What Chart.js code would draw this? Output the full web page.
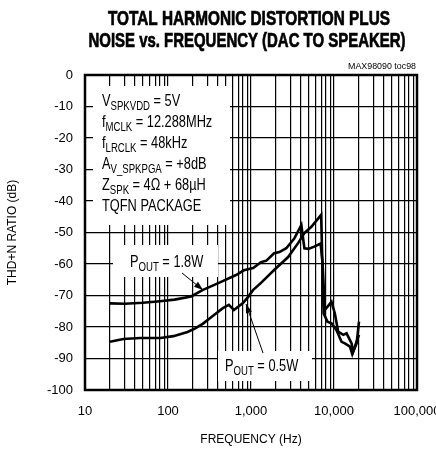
<!DOCTYPE html>
<html>
<head>
<meta charset="utf-8">
<script src="https://cdn.jsdelivr.net/npm/chart.js@4.4.1/dist/chart.umd.min.js"></script>
<style>
  html,body{margin:0;padding:0;background:#fff;}
  #wrap{width:436px;height:451px;position:relative;}
</style>
</head>
<body>
<div id="wrap"><canvas id="thd" width="436" height="451"></canvas></div>
<script>
// THD+N vs frequency, DAC to speaker
const FNT = "'Liberation Sans',Arial,sans-serif";
const NARROW = 0.8; // Liberation Sans squeezed ~ Helvetica Narrow

const freq18 = [20, 30, 50, 80, 120, 190, 260, 410, 660, 820, 1060, 1320, 1520, 1900, 2200, 2660, 3320, 4040, 4400, 4900, 5800, 6900, 7300, 7730, 9330, 10240, 11240, 12920, 14180, 16290, 17060, 18730, 20000];
const thd18  = [-72.5, -72.6, -72.3, -71.8, -71.3, -70.3, -68.3, -66, -63.5, -62, -61.3, -59.4, -59, -56.6, -56.2, -55, -51.9, -47.6, -55, -55.2, -54.5, -53.5, -60, -74.6, -72, -75.7, -81.5, -82.5, -82, -85.2, -87.8, -85.2, -78.3];

const freq05 = [20, 29, 46, 81, 116, 172, 210, 262, 346, 458, 541, 622, 800, 920, 1057, 1320, 1520, 1900, 2800, 3710, 4390, 5340, 7000, 7500, 8330, 9330, 10720, 12330, 13530, 15550, 16600, 17870, 20000];
const thd05  = [-84.7, -83.8, -83.5, -83.5, -82.9, -81.6, -80.5, -79, -76.5, -74, -73, -74.6, -72.4, -70.5, -68.3, -66, -64.4, -61.9, -57.8, -53.3, -50.2, -48.2, -44.4, -75.7, -78.3, -78.8, -81, -84.7, -85.2, -86.2, -88.6, -86.2, -82.5];

const xMajor = [10, 100, 1000, 10000, 100000];
const yTicks = [0, -10, -20, -30, -40, -50, -60, -70, -80, -90, -100];

const condLines = [
  [['V'], ['SPKVDD', 1], [' = 5V']],
  [['f'], ['MCLK', 1], [' = 12.288MHz']],
  [['f'], ['LRCLK', 1], [' = 48kHz']],
  [['A'], ['V_SPKPGA', 1], [' = +8dB']],
  [['Z'], ['SPK', 1], [' = 4\u03A9 + 68\u00B5H']],
  [['TQFN PACKAGE']]
];
const lbl18 = [['P'], ['OUT', 1], [' = 1.8W']];
const lbl05 = [['P'], ['OUT', 1], [' = 0.5W']];
const titleLines = ['TOTAL HARMONIC DISTORTION PLUS', 'NOISE vs. FREQUENCY (DAC TO SPEAKER)'];

const pts = (xs, ys) => xs.map((x, i) => ({x, y: ys[i]}));

function rich(ctx, parts, x, y, size) {
  ctx.save();
  ctx.translate(x, y); ctx.scale(NARROW, 1);
  let cx = 0;
  parts.forEach(p => {
    const sub = p[1];
    ctx.font = (sub ? Math.round(size * 0.75) : size) + 'px ' + FNT;
    ctx.fillText(p[0], cx, sub ? 4 : 0);
    cx += ctx.measureText(p[0]).width;
  });
  ctx.restore();
}

// text squeezed to a given width, centred or right aligned
function fitText(ctx, s, x, y, font, w, align, bold) {
  ctx.save();
  ctx.font = font;
  const m = ctx.measureText(s).width, k = w / m;
  ctx.translate(align === 'right' ? x - w : x - w / 2, y);
  ctx.scale(k, 1);
  ctx.textAlign = 'left';
  ctx.fillText(s, 0, 0);
  if (bold) { ctx.lineWidth = bold; ctx.strokeStyle = '#000'; ctx.strokeText(s, 0, 0); }
  ctx.restore();
}

function arrow(ctx, x1, y1, x2, y2) {
  ctx.save();
  ctx.strokeStyle = '#000'; ctx.fillStyle = '#000'; ctx.lineWidth = 1;
  ctx.beginPath(); ctx.moveTo(x1, y1); ctx.lineTo(x2, y2); ctx.stroke();
  const a = Math.atan2(y2 - y1, x2 - x1), L = 9, W = 3.2;
  ctx.beginPath();
  ctx.moveTo(x2, y2);
  ctx.lineTo(x2 - L * Math.cos(a) + W * Math.sin(a), y2 - L * Math.sin(a) - W * Math.cos(a));
  ctx.lineTo(x2 - L * Math.cos(a) - W * Math.sin(a), y2 - L * Math.sin(a) + W * Math.cos(a));
  ctx.closePath(); ctx.fill();
  ctx.restore();
}

const decor = {
  id: 'decor',
  beforeDatasetsDraw(chart) {
    const {ctx} = chart;
    ctx.save();
    ctx.fillStyle = '#fff';
    ctx.fillRect(93, 86, 137, 139);
    ctx.fillRect(113, 245, 105, 32);
    ctx.fillRect(218, 351, 94, 30);
    ctx.fillStyle = '#000';
    ctx.textBaseline = 'alphabetic';
    condLines.forEach((ln, i) => rich(ctx, ln, 102, 106 + i * 21, 16));
    rich(ctx, lbl18, 130, 267, 16);
    rich(ctx, lbl05, 225, 371, 16);
    ctx.restore();
  },
  afterDatasetsDraw(chart) {
    const {ctx, chartArea: a} = chart;
    arrow(ctx, 182, 273, 203, 290);
    arrow(ctx, 263, 353, 246, 304);
    ctx.save();
    ctx.strokeStyle = '#000'; ctx.lineWidth = 2.5;
    ctx.strokeRect(a.left, a.top, a.right - a.left, a.bottom - a.top);
    ctx.fillStyle = '#000'; ctx.textBaseline = 'alphabetic';
    fitText(ctx, titleLines[0], 249, 25, 'bold 20px ' + FNT, 282, 'center', 0.7);
    fitText(ctx, titleLines[1], 247, 47, 'bold 20px ' + FNT, 317, 'center', 0.7);
    fitText(ctx, 'MAX98090 toc98', 416, 69, '9px ' + FNT, 68, 'right');
    ctx.restore();
  }
};

const ds = (label, data) => ({label, data, borderColor: '#000', borderWidth: 2.6, pointRadius: 0, tension: 0, fill: false});

new Chart(document.getElementById('thd').getContext('2d'), {
  type: 'line',
  data: {datasets: [ds('POUT = 1.8W', pts(freq18, thd18)), ds('POUT = 0.5W', pts(freq05, thd05))]},
  options: {
    responsive: false, animation: false, devicePixelRatio: 1,
    layout: {padding: {top: 75, right: 19, bottom: 0, left: 0}},
    plugins: {legend: {display: false}, tooltip: {enabled: false}, title: {display: false}},
    scales: {
      x: {
        type: 'logarithmic', min: 10, max: 100000,
        afterBuildTicks: s => {
          const t = [];
          for (let d = 10; d < 100000; d *= 10) for (let m = 1; m < 10; m++) t.push({value: d * m});
          t.push({value: 100000});
          s.ticks = t;
        },
        afterFit: s => { s.height = 61; s.paddingLeft = 0; s.paddingRight = 0; },
        grid: {color: '#000', lineWidth: 1.2, drawTicks: false},
        border: {display: false},
        ticks: {
          autoSkip: false, maxRotation: 0, padding: 14, color: '#000', font: {family: FNT, size: 13},
          callback: v => xMajor.includes(v) ? v.toLocaleString('en-US') : ''
        },
        title: {display: true, text: 'FREQUENCY (Hz)', color: '#000', font: {family: FNT, size: 12}, padding: {top: 0, bottom: 4}}
      },
      y: {
        min: -100, max: 0,
        afterBuildTicks: s => { s.ticks = yTicks.map(v => ({value: v})); },
        afterFit: s => { s.width = 85; },
        grid: {color: '#000', lineWidth: 1.2, drawTicks: false},
        border: {display: false},
        ticks: {padding: 12, color: '#000', font: {family: FNT, size: 13}},
        title: {display: true, text: 'THD+N RATIO (dB)', color: '#000', font: {family: FNT, size: 12}, padding: {top: 5, bottom: 0}}
      }
    }
  },
  plugins: [decor]
});
</script>
</body>
</html>
